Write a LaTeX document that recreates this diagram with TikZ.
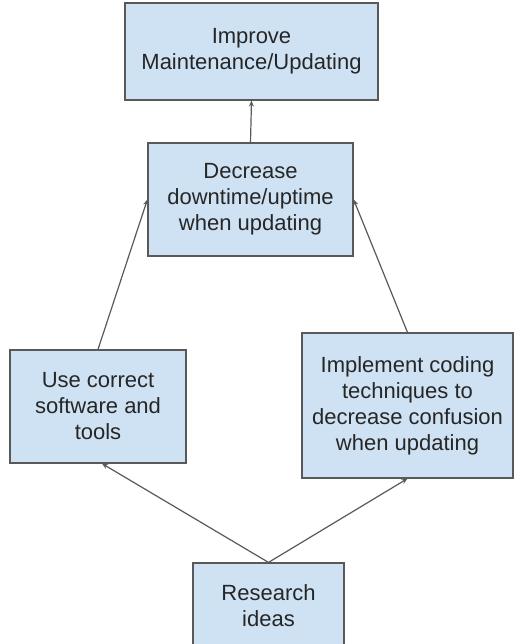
\documentclass[tikz,border=0pt]{standalone}
\usepackage{fontspec}
\setmainfont{Liberation Sans}
\usepackage{xcolor}
\usetikzlibrary{arrows.meta}
\definecolor{boxfill}{HTML}{CFE2F3}
\definecolor{boxline}{HTML}{595959}

\begin{document}
\begin{tikzpicture}[x=1pt,y=-1pt,
    goal/.style={draw=boxline,fill=boxfill,line width=1.2pt,inner sep=0pt,
        align=center,text=black!85,font=\fontsize{22}{26}\selectfont},
    link/.style={draw=boxline,line width=1.2pt,-{Stealth[length=6pt,width=5pt]}}]
            \useasboundingbox (0,0) rectangle (515,644);
            \node[goal,minimum width=253,minimum height=97] (improve) at (251.5,51.5) {Improve\\Maintenance/Updating};
            \node[goal,minimum width=205,minimum height=113] (downtime) at (250.5,199.5) {Decrease\\downtime/uptime\\when updating};
            \node[goal,minimum width=176,minimum height=113] (tools) at (98,406.5) {Use correct\\software and\\tools};
            \node[goal,minimum width=211,minimum height=145] (coding) at (407.5,405.5) {Implement coding\\techniques to\\decrease confusion\\when updating};
            \node[goal,minimum width=151,minimum height=86] (research) at (268.5,606) {Research\\ideas};
            \draw[link] (downtime.north) -- (improve.south);
            \draw[link] (tools.north) -- (downtime.west);
            \draw[link] (coding.north) -- (downtime.east);
            \draw[link] (research.north) -- ([xshift=4pt]tools.south);
            \draw[link] (research.north) -- (coding.south);
        \end{tikzpicture}
\end{document}
